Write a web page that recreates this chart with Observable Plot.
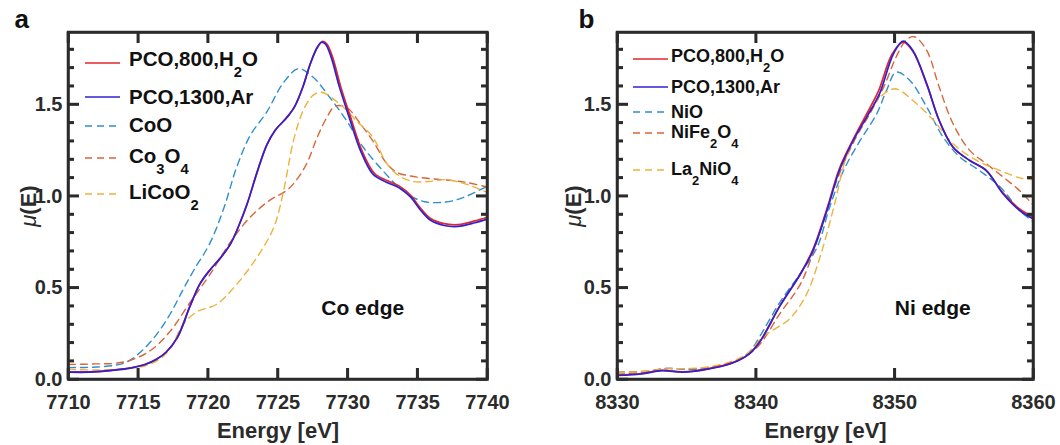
<!DOCTYPE html>
<html><head><meta charset="utf-8">
<script src="https://cdn.jsdelivr.net/npm/d3@7"></script>
<script src="https://cdn.jsdelivr.net/npm/@observablehq/plot@0.6"></script>
<style>
body{margin:0;background:#fff}
#fig{position:relative;width:1060px;height:445px}
#pa,#pb{position:absolute;top:0}
#pa{left:0}
#pb{left:530px}
</style></head><body>
<div id="fig"><div id="pa"></div><div id="pb"></div></div>
<script>
// ---------- Panel a: Co K-edge ----------
const coTicks = [7710, 7715, 7720, 7725, 7730, 7735, 7740];
const yMajorTicks = [0, 0.5, 1.0, 1.5];
const yMinorTicks = [0.1,0.2,0.3,0.4,0.6,0.7,0.8,0.9,1.1,1.2,1.3,1.4,1.6,1.7,1.8];

const coNames = ["PCO,800,H_2O", "PCO,1300,Ar", "CoO", "Co_3O_4", "LiCoO_2"];

const coPco800E = [7710,7711.5,7713,7714.5,7715.5,7716.3,7717,7717.8,7718.7,7719.4,7720.1,7720.9,7721.6,7722.2,7722.8,7723.5,7724.2,7724.8,7725.4,7725.8,7726.2,7726.8,7727.3,7727.8,7728.2,7728.5,7728.9,7729.5,7730.2,7731,7731.9,7732.8,7733.7,7734.5,7735.2,7735.9,7736.9,7737.9,7739.1,7740];
const coPco800Mu = [0.042,0.042,0.05,0.064,0.083,0.11,0.15,0.23,0.40,0.52,0.595,0.665,0.74,0.84,0.96,1.13,1.28,1.36,1.41,1.445,1.49,1.60,1.72,1.81,1.845,1.83,1.76,1.595,1.43,1.25,1.125,1.085,1.055,1.005,0.935,0.88,0.85,0.845,0.865,0.885];

const coPco1300E = [7710,7711.5,7713,7714.5,7715.5,7716.3,7717,7717.8,7718.7,7719.4,7720.1,7720.9,7721.6,7722.2,7722.8,7723.5,7724.2,7724.8,7725.4,7725.8,7726.2,7726.8,7727.3,7727.8,7728.1,7728.4,7728.8,7729.4,7730.1,7730.9,7731.8,7732.8,7733.7,7734.5,7735.2,7735.9,7736.9,7737.9,7739.1,7740];
const coPco1300Mu = [0.040,0.040,0.048,0.063,0.082,0.11,0.15,0.23,0.40,0.52,0.595,0.665,0.74,0.84,0.96,1.13,1.28,1.36,1.41,1.445,1.49,1.60,1.72,1.81,1.84,1.83,1.76,1.595,1.43,1.25,1.12,1.075,1.045,0.995,0.925,0.87,0.84,0.835,0.855,0.875];

const coCoOE = [7710,7712,7713.5,7714.3,7715.3,7716.3,7717.3,7718.2,7719,7720.1,7721.1,7722.05,7723,7724.2,7725.4,7726.45,7727.5,7728.7,7729.9,7731.1,7732.5,7733.5,7734.5,7735.5,7736.5,7737.5,7738.5,7740];
const coCoOMu = [0.065,0.068,0.08,0.10,0.16,0.245,0.36,0.49,0.60,0.74,0.93,1.16,1.33,1.46,1.62,1.695,1.65,1.54,1.413,1.267,1.14,1.06,1.0,0.97,0.965,0.975,1.0,1.055];

const coCo3O4E = [7710,7712,7713.5,7714.8,7716,7717.3,7718.7,7720.1,7721.6,7723,7724.4,7725.6,7726.3,7727.05,7727.8,7728.5,7729.07,7729.9,7730.9,7731.8,7732.8,7733.5,7734.5,7736,7737.5,7738.5,7740];
const coCo3O4Mu = [0.082,0.085,0.09,0.115,0.165,0.265,0.42,0.57,0.75,0.885,0.977,1.03,1.086,1.177,1.32,1.43,1.49,1.485,1.395,1.30,1.177,1.13,1.11,1.095,1.085,1.075,1.05];

const coLiCoO2E = [7710,7712,7714,7715.5,7716.5,7717.3,7718.2,7719.2,7720.6,7722.05,7723.5,7724.7,7725.4,7726.1,7726.8,7727.5,7728.1,7729.4,7730.6,7731.8,7732.8,7733.7,7734.7,7735.8,7737,7738.3,7739.2,7740];
const coLiCoO2Mu = [0.055,0.052,0.058,0.075,0.11,0.17,0.30,0.37,0.41,0.52,0.667,0.83,1.03,1.30,1.467,1.55,1.567,1.504,1.413,1.32,1.177,1.11,1.08,1.08,1.09,1.07,1.045,1.02];

// ---------- Panel b: Ni K-edge ----------
const niTicks = [8330, 8340, 8350, 8360];
const niNames = ["PCO,800,H_2O", "PCO,1300,Ar", "NiO", "NiFe_2O_4", "La_2NiO_4"];

const niPco800E = [8330,8331.7,8333.2,8334.7,8336.4,8338.3,8339.5,8340.3,8341.7,8343.2,8344.1,8345.1,8346,8347,8347.9,8348.8,8349.8,8350.6,8351.3,8352.3,8353.2,8354.2,8355.4,8356.6,8357.8,8359,8360];
const niPco800Mu = [0.024,0.032,0.05,0.042,0.057,0.092,0.14,0.21,0.40,0.577,0.71,0.93,1.15,1.31,1.44,1.57,1.775,1.84,1.79,1.61,1.413,1.267,1.195,1.14,1.018,0.93,0.885];

const niPco1300E = [8330,8331.7,8333.2,8334.7,8336.4,8338.3,8339.5,8340.3,8341.7,8343.2,8344.1,8345.1,8346,8347,8347.96,8348.9,8349.9,8350.6,8351.3,8352.3,8353.2,8354.2,8355.4,8356.6,8357.8,8359,8360];
const niPco1300Mu = [0.022,0.03,0.048,0.04,0.055,0.09,0.14,0.21,0.40,0.577,0.704,0.92,1.14,1.304,1.43,1.56,1.777,1.846,1.795,1.613,1.413,1.267,1.195,1.14,1.013,0.922,0.875];

const niNiOE = [8330,8332,8333.5,8335,8336.5,8338.3,8339.5,8340.3,8341.7,8343.2,8344.4,8345.3,8346.3,8347.5,8348.7,8349.4,8350.1,8351.1,8352.3,8353.5,8354.7,8356.1,8357.6,8359,8360];
const niNiOMu = [0.03,0.04,0.06,0.055,0.06,0.09,0.15,0.24,0.42,0.58,0.722,0.94,1.14,1.304,1.45,1.577,1.677,1.63,1.486,1.32,1.213,1.14,1.05,0.922,0.86];

const niNiFe2O4E = [8330,8332,8333.5,8335,8336.5,8338.3,8339.5,8340.3,8341.7,8343.2,8344.4,8345.3,8346.3,8347.2,8348.2,8349.2,8350.1,8350.8,8351.4,8352.3,8353.2,8354.2,8355.4,8356.6,8357.8,8359,8360];
const niNiFe2O4Mu = [0.04,0.045,0.06,0.058,0.065,0.095,0.14,0.195,0.358,0.522,0.758,0.977,1.177,1.32,1.45,1.595,1.76,1.85,1.87,1.795,1.595,1.395,1.25,1.177,1.105,1.03,0.95];

const niLa2NiO4E = [8330,8332,8333.5,8335,8336.5,8338.3,8339.5,8340.3,8341,8342.4,8343.6,8344.6,8345.6,8346.5,8347.5,8348.7,8350,8351.3,8352.8,8354.2,8355.9,8357.6,8359,8360];
const niLa2NiO4Mu = [0.035,0.045,0.058,0.06,0.068,0.10,0.15,0.22,0.26,0.33,0.46,0.667,0.94,1.213,1.377,1.522,1.586,1.522,1.413,1.286,1.195,1.14,1.10,1.09];

// ---------- styling ----------
const FONT = '"Liberation Sans", Arial, Helvetica, sans-serif';
const INK = "#2b2b2b";
const colors = ["#e3262b", "#3020d0", "#2e8fce", "#d9653b", "#ecb33c"];
const dashed = [false, false, true, true, true];

function rows(E, M, k) { return E.map((e, i) => ({energy: e, mu: M[i], k})); }

function richText(sel, label, subSize, subShift) {
  const parts = label.split(/_(\d)/);
  let shifted = false;
  parts.forEach((p, i) => {
    if (!p) return;
    const t = sel.append("tspan").text(p);
    if (i % 2 === 1) { t.attr("font-size", subSize).attr("dy", subShift); shifted = true; }
    else if (shifted) { t.attr("dy", -subShift); shifted = false; }
  });
}

function panel(cfg) {
  const W = 530, H = 445, MT = 32, MB = 66;
  const fw = W - cfg.ml - cfg.mr, fh = H - MT - MB;
  const MAJ = 11, MIN = 6;
  const lineMarks = [2, 3, 4, 0, 1].map(k => Plot.line(rows(cfg.E[k], cfg.M[k], k), {
    x: "energy", y: "mu", stroke: colors[k],
    strokeWidth: dashed[k] ? 1.4 : 1.7,
    strokeDasharray: dashed[k] ? "7,5" : null,
    curve: "catmull-rom", clip: true
  }));
  const tk = {stroke: INK, strokeWidth: 2.5, strokeLinecap: "butt"};
  const svg = Plot.plot({
    width: W, height: H,
    marginLeft: cfg.ml, marginRight: cfg.mr, marginTop: MT, marginBottom: MB,
    style: {fontFamily: FONT, background: "transparent"},
    x: {domain: cfg.xDomain, label: null},
    y: {domain: [0, 1.893], label: null},
    marks: [
      ...lineMarks,
      Plot.ruleX(cfg.xTicks, {x: d => d, insetTop: fh - MAJ, ...tk}),
      Plot.ruleX(cfg.xTicks, {x: d => d, insetBottom: fh - MAJ, ...tk}),
      Plot.ruleY(yMajorTicks, {y: d => d, insetRight: fw - MAJ, ...tk}),
      Plot.ruleY(yMajorTicks, {y: d => d, insetLeft: fw - MAJ, ...tk}),
      Plot.ruleY(yMinorTicks, {y: d => d, insetRight: fw - MIN, ...tk}),
      Plot.ruleY(yMinorTicks, {y: d => d, insetLeft: fw - MIN, ...tk}),
      Plot.axisX({ticks: cfg.xTicks, anchor: "bottom", tickSize: 0, tickPadding: 15,
        tickFormat: d => String(d), fontSize: 20, fontWeight: "bold", fill: INK}),
      Plot.axisY({ticks: yMajorTicks, anchor: "left", tickSize: 0, tickPadding: 6,
        tickFormat: d3.format(".1f"), fontSize: 20, fontWeight: "bold", fill: INK}),
      Plot.frame({stroke: INK, strokeWidth: 2.5}),
      Plot.text(["Energy [eV]"], {frameAnchor: "bottom", lineAnchor: "top", dy: 43,
        text: d => d, fontSize: 22, fontWeight: "bold", fill: INK}),
      Plot.text(["μ(E)"], {frameAnchor: "left", dx: cfg.muDx, rotate: -90, textAnchor: "middle",
        lineAnchor: "middle", text: d => d, fontSize: 22, fontWeight: "bold", fill: INK}),
      Plot.text([cfg.letter], {frameAnchor: "top-left", textAnchor: "start", lineAnchor: "bottom",
        dx: cfg.letterDx, dy: -5, text: d => d, fontSize: 26, fontWeight: "bold", fill: "#111"}),
      Plot.text([cfg.edge], {x: cfg.edgeX, y: cfg.edgeY, textAnchor: "start", lineAnchor: "bottom",
        text: d => d, fontSize: 21, fontWeight: "bold", fill: "#111"})
    ]
  });
  const s = d3.select(svg);
  // italic mu
  s.selectAll("text").filter(function () { return this.textContent === "μ(E)"; }).each(function () {
    const t = d3.select(this);
    t.text(null);
    t.append("tspan").attr("font-style", "italic").attr("font-weight", "normal").text("μ");
    t.append("tspan").text("(E)");
  });
  // box and inward ticks, re-stroked on top using the plot's own scales
  const xs = svg.scale("x"), ys = svg.scale("y");
  const x0 = xs.apply(cfg.xDomain[0]), x1 = xs.apply(cfg.xDomain[1]);
  const yb = ys.apply(0), yt = yb - fh;
  const box = s.append("g").attr("stroke", INK).attr("fill", "none").attr("stroke-width", 2.5);
  box.append("rect").attr("x", x0).attr("y", yt).attr("width", x1 - x0).attr("height", yb - yt);
  cfg.xTicks.forEach(v => {
    const px = xs.apply(v);
    box.append("line").attr("x1", px).attr("x2", px).attr("y1", yb).attr("y2", yb - MAJ);
    box.append("line").attr("x1", px).attr("x2", px).attr("y1", yt).attr("y2", yt + MAJ);
  });
  [[yMajorTicks, MAJ], [yMinorTicks, MIN]].forEach(([vals, len]) => vals.forEach(v => {
    const py = ys.apply(v);
    box.append("line").attr("x1", x0).attr("x2", x0 + len).attr("y1", py).attr("y2", py);
    box.append("line").attr("x1", x1).attr("x2", x1 - len).attr("y1", py).attr("y2", py);
  }));
  // legend
  const L = cfg.legend;
  const g = s.append("g").attr("font-family", FONT).attr("font-weight", "bold")
    .attr("font-size", L.fontSize).attr("fill", "#111").attr("text-anchor", "start");
  cfg.names.forEach((name, k) => {
    g.append("line").attr("x1", L.x1).attr("x2", L.x2).attr("y1", L.lineY[k]).attr("y2", L.lineY[k])
      .attr("stroke", colors[k]).attr("stroke-width", dashed[k] ? 1.4 : 1.7)
      .attr("stroke-dasharray", dashed[k] ? "7,5" : null);
    const t = g.append("text").attr("x", L.tx).attr("y", L.baseY[k]).attr("text-anchor", "start");
    richText(t, name, L.fontSize * 0.72, L.fontSize * 0.55);
  });
  return svg;
}

document.getElementById("pa").append(panel({
  letter: "a", letterDx: -54, muDx: -40, ml: 68, mr: 43,
  xDomain: [7710, 7740], xTicks: coTicks,
  E: [coPco800E, coPco1300E, coCoOE, coCo3O4E, coLiCoO2E],
  M: [coPco800Mu, coPco1300Mu, coCoOMu, coCo3O4Mu, coLiCoO2Mu],
  names: coNames,
  edge: "Co edge", edgeX: 7728.1, edgeY: 0.35,
  legend: {x1: 85, x2: 120, tx: 129, fontSize: 20.5,
    lineY: [63, 97, 126, 158, 194], baseY: [66, 104, 132, 163, 199]}
}));

document.getElementById("pb").append(panel({
  letter: "b", letterDx: -39, muDx: -44, ml: 87, mr: 27,
  xDomain: [8330, 8360], xTicks: niTicks,
  E: [niPco800E, niPco1300E, niNiOE, niNiFe2O4E, niLa2NiO4E],
  M: [niPco800Mu, niPco1300Mu, niNiOMu, niNiFe2O4Mu, niLa2NiO4Mu],
  names: niNames,
  edge: "Ni edge", edgeX: 8350.0, edgeY: 0.35,
  legend: {x1: 103, x2: 138, tx: 141, fontSize: 18,
    lineY: [59, 87, 112, 133, 170], baseY: [62, 93, 118, 138, 175]}
}));
</script>
</body></html>
